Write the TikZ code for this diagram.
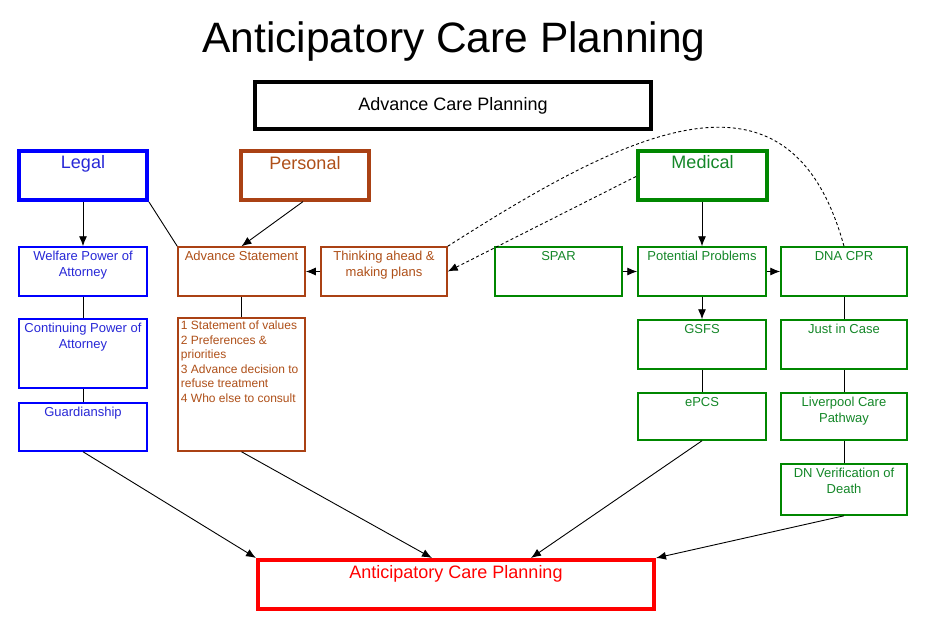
\documentclass[tikz,border=0pt]{standalone}
\usepackage{fontspec}
\setmainfont{Liberation Sans}
\usetikzlibrary{arrows.meta}
\definecolor{lblue}{RGB}{0,0,255}
\definecolor{lbluetxt}{RGB}{40,40,215}
\definecolor{pbrown}{RGB}{170,65,20}
\definecolor{pbrowntxt}{RGB}{175,80,25}
\definecolor{mgreen}{RGB}{0,135,0}
\definecolor{mgreentxt}{RGB}{20,135,40}
\definecolor{rred}{RGB}{255,0,0}
\begin{document}
\begin{tikzpicture}[x=1pt,y=-1pt,
  box/.style={draw, rectangle, inner sep=0pt, line width=1.5pt, fill=white},
  bigbox/.style={box, line width=3.6pt},
  small/.style={font=\fontsize{13}{16}\selectfont},
  big/.style={font=\fontsize{18}{21}\selectfont},
  legalc/.style={draw=lblue, text=lbluetxt},
  persc/.style={draw=pbrown, text=pbrowntxt},
  medc/.style={draw=mgreen, text=mgreentxt},
  ln/.style={draw=black, line width=0.9pt},
  arr/.style={ln, -{Latex[length=10pt,width=8pt]}},
  dsh/.style={draw=black, line width=0.9pt, dash pattern=on 3pt off 2.5pt},
]
\useasboundingbox (0,0) rectangle (928,624);

% title
\node[font=\fontsize{42.5}{48}\selectfont] (title) at (454,42) {Anticipatory Care Planning};

% top box
\node[bigbox, line width=3.4pt, draw=black, minimum width=396pt, minimum height=47pt, big] (acpl) at (453,105.5) {Advance Care Planning};

% headers
\node[bigbox, line width=4pt, legalc, minimum width=128pt, minimum height=49pt] (legal) at (83,175.5) {};
\node[big, text=lbluetxt, anchor=north, inner sep=0pt] (legalT) at ([yshift=-6.5pt]legal.north) {Legal};
\node[bigbox, line width=3.2pt, persc, minimum width=128pt, minimum height=49pt] (pers) at (305,175.5) {};
\node[big, text=pbrowntxt, anchor=north, inner sep=0pt] (persT) at ([yshift=-6.5pt]pers.north) {Personal};
\node[bigbox, line width=4pt, medc, minimum width=129pt, minimum height=49pt] (med) at (702.5,175.5) {};
\node[big, text=mgreentxt, anchor=north, inner sep=0pt] (medT) at ([yshift=-6.5pt]med.north) {Medical};

% legal column
\node[box, legalc, minimum width=128pt, minimum height=49pt] (welf) at (83,271.5) {};
\node[small, text=lbluetxt, align=center, anchor=north, inner sep=0pt] (welfT) at ([yshift=-5pt]welf.north) {Welfare Power of\\Attorney};
\node[box, legalc, minimum width=128pt, minimum height=69pt] (cont) at (83,353.5) {};
\node[small, text=lbluetxt, align=center, anchor=north, inner sep=0pt] (contT) at ([yshift=-5pt]cont.north) {Continuing Power of\\Attorney};
\node[box, legalc, minimum width=128pt, minimum height=48pt] (guard) at (83,427) {};
\node[small, text=lbluetxt, align=center, anchor=north, inner sep=0pt] (guardT) at ([yshift=-5pt]guard.north) {Guardianship};

% personal column
\node[box, persc, minimum width=127pt, minimum height=49pt] (advst) at (241.5,271.5) {};
\node[small, text=pbrowntxt, align=center, anchor=north, inner sep=0pt] (advstT) at ([yshift=-5pt]advst.north) {Advance Statement};
\node[box, persc, minimum width=127pt, minimum height=133pt] (list) at (241.5,384.5) {};
\node[font=\fontsize{12}{14.5}\selectfont, text=pbrowntxt, align=left, anchor=north west, inner sep=0pt] (listT) at ([xshift=3.5pt,yshift=-3.5pt]list.north west) {1 Statement of values\\2 Preferences \&\\priorities\\3 Advance decision to\\refuse treatment\\4 Who else to consult};
\node[box, persc, minimum width=126pt, minimum height=49pt] (think) at (384,271.5) {};
\node[small, text=pbrowntxt, align=center, anchor=north, inner sep=0pt] (thinkT) at ([yshift=-5pt]think.north) {Thinking ahead \&\\making plans};

% medical
\node[box, medc, minimum width=127pt, minimum height=49pt] (spar) at (558.5,271.5) {};
\node[small, text=mgreentxt, align=center, anchor=north, inner sep=0pt] (sparT) at ([yshift=-5pt]spar.north) {SPAR};
\node[box, medc, minimum width=128pt, minimum height=49pt] (pp) at (702,271.5) {};
\node[small, text=mgreentxt, align=center, anchor=north, inner sep=0pt] (ppT) at ([yshift=-5pt]pp.north) {Potential Problems};
\node[box, medc, minimum width=126pt, minimum height=49pt] (dna) at (844,271.5) {};
\node[small, text=mgreentxt, align=center, anchor=north, inner sep=0pt] (dnaT) at ([yshift=-5pt]dna.north) {DNA CPR};
\node[box, medc, minimum width=128pt, minimum height=49pt] (gsfs) at (702,344.5) {};
\node[small, text=mgreentxt, align=center, anchor=north, inner sep=0pt] (gsfsT) at ([yshift=-5pt]gsfs.north) {GSFS};
\node[box, medc, minimum width=126pt, minimum height=49pt] (jic) at (844,344.5) {};
\node[small, text=mgreentxt, align=center, anchor=north, inner sep=0pt] (jicT) at ([yshift=-5pt]jic.north) {Just in Case};
\node[box, medc, minimum width=128pt, minimum height=47pt] (epcs) at (702,416.5) {};
\node[small, text=mgreentxt, align=center, anchor=north, inner sep=0pt] (epcsT) at ([yshift=-5pt]epcs.north) {ePCS};
\node[box, medc, minimum width=126pt, minimum height=47pt] (liver) at (844,416.5) {};
\node[small, text=mgreentxt, align=center, anchor=north, inner sep=0pt] (liverT) at ([yshift=-5pt]liver.north) {Liverpool Care\\Pathway};
\node[box, medc, minimum width=126pt, minimum height=51pt] (dnv) at (844,489.5) {};
\node[small, text=mgreentxt, align=center, anchor=north, inner sep=0pt] (dnvT) at ([yshift=-5pt]dnv.north) {DN Verification of\\Death};

% bottom
\node[bigbox, line width=4pt, draw=rred, minimum width=396pt, minimum height=49pt] (acp) at (456,584.5) {};
\node[big, text=rred, anchor=north, inner sep=0pt] (acpT) at ([yshift=-7.5pt]acp.north) {Anticipatory Care Planning};

% connectors
\draw[arr] (legal.south) -- (welf.north);
\draw[ln] (legal.south east) -- (advst.north west);
\draw[arr] ([xshift=-2pt]pers.south) -- (advst.north);
\draw[arr] (think.west) -- (advst.east);
\draw[ln] (welf.south) -- (cont.north);
\draw[ln] (cont.south) -- (guard.north);
\draw[ln] (advst.south) -- (list.north);
\draw[arr] (med.south -| pp.north) -- (pp.north);
\draw[arr] (spar.east) -- (pp.west);
\draw[arr] (pp.east) -- (dna.west);
\draw[arr] (pp.south) -- (gsfs.north);
\draw[ln] (gsfs.south) -- (epcs.north);
\draw[ln] (dna.south) -- (jic.north);
\draw[ln] (jic.south) -- (liver.north);
\draw[ln] (liver.south) -- (dnv.north);
\draw[arr] (guard.south) -- (acp.north west);
\draw[arr] (list.south) -- ([xshift=-24pt]acp.north);
\draw[arr] (epcs.south) -- ([xshift=75pt]acp.north);
\draw[arr] (dnv.south) -- (acp.north east);
\draw[dsh, -{Latex[length=10pt,width=8pt]}] ([yshift=-1pt]med.west) -- (think.east);
\draw[dsh] (think.north east) .. controls (630,130) and (790,50) .. (dna.north);
\end{tikzpicture}
\end{document}
